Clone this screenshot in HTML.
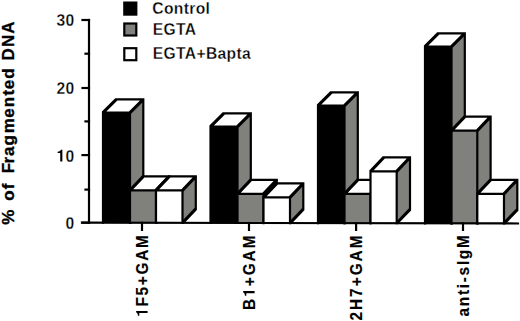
<!DOCTYPE html>
<html><head><meta charset="utf-8"><style>
html,body{margin:0;padding:0;background:#fff;}
svg{display:block;}
text{font-family:"Liberation Sans",sans-serif;font-weight:bold;fill:#000;stroke:#fff;stroke-width:0.3px;}
.lg{font-size:16.3px;letter-spacing:0.35px;stroke:#fff;stroke-width:0.3px;}
.yl{font-size:16.3px;letter-spacing:0.3px;stroke:#fff;stroke-width:0.3px;}
.xl{font-size:16.0px;stroke:#000;stroke-width:0.15px;}
.h1{fill:none;stroke:none;}
.p1{fill:#000;stroke:none;}
.ya{font-size:17px;letter-spacing:1.3px;stroke:#000;stroke-width:0.35px;}
</style></head><body>
<svg width="520" height="321" viewBox="0 0 520 321">
<g fill="#000">
<rect x="103" y="112.6" width="27" height="110.16" fill="#000"/>
<polygon points="103,112.6 130,112.6 143.3,99.3 116.3,99.3" fill="#fff"/>
<polygon points="130,112.6 143.3,99.3 143.3,209.46 130,222.76" fill="#80817d"/>
<path d="M101.9,111.5 L104.1,111.5 L104.1,223.86 L101.9,223.86Z M128.9,111.5 L131.1,111.5 L131.1,223.86 L128.9,223.86Z M101.9,111.5 L131.1,111.5 L131.1,113.7 L101.9,113.7Z M101.9,111.5 L115.2,98.2 L117.4,98.2 L117.4,100.4 L104.1,113.7 L101.9,113.7Z M115.2,98.2 L144.4,98.2 L144.4,100.4 L115.2,100.4Z M128.9,111.5 L142.2,98.2 L144.4,98.2 L144.4,100.4 L131.1,113.7 L128.9,113.7Z M142.2,98.2 L144.4,98.2 L144.4,210.56 L142.2,210.56Z M128.9,221.66 L142.2,208.36 L144.4,208.36 L144.4,210.56 L131.1,223.86 L128.9,223.86Z"/>
<rect x="130" y="190.3" width="26" height="32.51" fill="#80817d"/>
<polygon points="130,190.3 156,190.3 169.3,176.4 143.3,176.4" fill="#fff"/>
<polygon points="156,190.3 169.3,176.4 169.3,208.91 156,222.81" fill="#80817d"/>
<path d="M128.9,189.2 L131.1,189.2 L131.1,223.91 L128.9,223.91Z M154.9,189.2 L157.1,189.2 L157.1,223.91 L154.9,223.91Z M128.9,189.2 L157.1,189.2 L157.1,191.4 L128.9,191.4Z M128.9,189.2 L142.2,175.3 L144.4,175.3 L144.4,177.5 L131.1,191.4 L128.9,191.4Z M142.2,175.3 L170.4,175.3 L170.4,177.5 L142.2,177.5Z M154.9,189.2 L168.2,175.3 L170.4,175.3 L170.4,177.5 L157.1,191.4 L154.9,191.4Z M168.2,175.3 L170.4,175.3 L170.4,210.01 L168.2,210.01Z M154.9,221.71 L168.2,207.81 L170.4,207.81 L170.4,210.01 L157.1,223.91 L154.9,223.91Z"/>
<rect x="156" y="190.3" width="26.5" height="32.56" fill="#fff"/>
<polygon points="156,190.3 182.5,190.3 195.8,176.4 169.3,176.4" fill="#fff"/>
<polygon points="182.5,190.3 195.8,176.4 195.8,208.96 182.5,222.86" fill="#80817d"/>
<path d="M154.9,189.2 L157.1,189.2 L157.1,223.96 L154.9,223.96Z M181.4,189.2 L183.6,189.2 L183.6,223.96 L181.4,223.96Z M154.9,189.2 L183.6,189.2 L183.6,191.4 L154.9,191.4Z M154.9,189.2 L168.2,175.3 L170.4,175.3 L170.4,177.5 L157.1,191.4 L154.9,191.4Z M168.2,175.3 L196.9,175.3 L196.9,177.5 L168.2,177.5Z M181.4,189.2 L194.7,175.3 L196.9,175.3 L196.9,177.5 L183.6,191.4 L181.4,191.4Z M194.7,175.3 L196.9,175.3 L196.9,210.06 L194.7,210.06Z M181.4,221.76 L194.7,207.86 L196.9,207.86 L196.9,210.06 L183.6,223.96 L181.4,223.96Z"/>
<rect x="210.5" y="126.6" width="27" height="96.36" fill="#000"/>
<polygon points="210.5,126.6 237.5,126.6 250.8,113.3 223.8,113.3" fill="#fff"/>
<polygon points="237.5,126.6 250.8,113.3 250.8,209.66 237.5,222.96" fill="#80817d"/>
<path d="M209.4,125.5 L211.6,125.5 L211.6,224.06 L209.4,224.06Z M236.4,125.5 L238.6,125.5 L238.6,224.06 L236.4,224.06Z M209.4,125.5 L238.6,125.5 L238.6,127.7 L209.4,127.7Z M209.4,125.5 L222.7,112.2 L224.9,112.2 L224.9,114.4 L211.6,127.7 L209.4,127.7Z M222.7,112.2 L251.9,112.2 L251.9,114.4 L222.7,114.4Z M236.4,125.5 L249.7,112.2 L251.9,112.2 L251.9,114.4 L238.6,127.7 L236.4,127.7Z M249.7,112.2 L251.9,112.2 L251.9,210.76 L249.7,210.76Z M236.4,221.86 L249.7,208.56 L251.9,208.56 L251.9,210.76 L238.6,224.06 L236.4,224.06Z"/>
<rect x="237.5" y="193.8" width="26" height="29.2" fill="#80817d"/>
<polygon points="237.5,193.8 263.5,193.8 276.8,179.9 250.8,179.9" fill="#fff"/>
<polygon points="263.5,193.8 276.8,179.9 276.8,209.1 263.5,223" fill="#80817d"/>
<path d="M236.4,192.7 L238.6,192.7 L238.6,224.1 L236.4,224.1Z M262.4,192.7 L264.6,192.7 L264.6,224.1 L262.4,224.1Z M236.4,192.7 L264.6,192.7 L264.6,194.9 L236.4,194.9Z M236.4,192.7 L249.7,178.8 L251.9,178.8 L251.9,181 L238.6,194.9 L236.4,194.9Z M249.7,178.8 L277.9,178.8 L277.9,181 L249.7,181Z M262.4,192.7 L275.7,178.8 L277.9,178.8 L277.9,181 L264.6,194.9 L262.4,194.9Z M275.7,178.8 L277.9,178.8 L277.9,210.2 L275.7,210.2Z M262.4,221.9 L275.7,208 L277.9,208 L277.9,210.2 L264.6,224.1 L262.4,224.1Z"/>
<rect x="263.5" y="197.3" width="26.5" height="25.75" fill="#fff"/>
<polygon points="263.5,197.3 290,197.3 303.3,183.4 276.8,183.4" fill="#fff"/>
<polygon points="290,197.3 303.3,183.4 303.3,209.15 290,223.05" fill="#80817d"/>
<path d="M262.4,196.2 L264.6,196.2 L264.6,224.15 L262.4,224.15Z M288.9,196.2 L291.1,196.2 L291.1,224.15 L288.9,224.15Z M262.4,196.2 L291.1,196.2 L291.1,198.4 L262.4,198.4Z M262.4,196.2 L275.7,182.3 L277.9,182.3 L277.9,184.5 L264.6,198.4 L262.4,198.4Z M275.7,182.3 L304.4,182.3 L304.4,184.5 L275.7,184.5Z M288.9,196.2 L302.2,182.3 L304.4,182.3 L304.4,184.5 L291.1,198.4 L288.9,198.4Z M302.2,182.3 L304.4,182.3 L304.4,210.25 L302.2,210.25Z M288.9,221.95 L302.2,208.05 L304.4,208.05 L304.4,210.25 L291.1,224.15 L288.9,224.15Z"/>
<rect x="318" y="105.6" width="26.5" height="117.55" fill="#000"/>
<polygon points="318,105.6 344.5,105.6 357.8,92.3 331.3,92.3" fill="#fff"/>
<polygon points="344.5,105.6 357.8,92.3 357.8,209.85 344.5,223.15" fill="#80817d"/>
<path d="M316.9,104.5 L319.1,104.5 L319.1,224.25 L316.9,224.25Z M343.4,104.5 L345.6,104.5 L345.6,224.25 L343.4,224.25Z M316.9,104.5 L345.6,104.5 L345.6,106.7 L316.9,106.7Z M316.9,104.5 L330.2,91.2 L332.4,91.2 L332.4,93.4 L319.1,106.7 L316.9,106.7Z M330.2,91.2 L358.9,91.2 L358.9,93.4 L330.2,93.4Z M343.4,104.5 L356.7,91.2 L358.9,91.2 L358.9,93.4 L345.6,106.7 L343.4,106.7Z M356.7,91.2 L358.9,91.2 L358.9,210.95 L356.7,210.95Z M343.4,222.05 L356.7,208.75 L358.9,208.75 L358.9,210.95 L345.6,224.25 L343.4,224.25Z"/>
<rect x="344.5" y="193.8" width="26" height="29.4" fill="#80817d"/>
<polygon points="344.5,193.8 370.5,193.8 383.8,179.9 357.8,179.9" fill="#fff"/>
<polygon points="370.5,193.8 383.8,179.9 383.8,209.3 370.5,223.2" fill="#80817d"/>
<path d="M343.4,192.7 L345.6,192.7 L345.6,224.3 L343.4,224.3Z M369.4,192.7 L371.6,192.7 L371.6,224.3 L369.4,224.3Z M343.4,192.7 L371.6,192.7 L371.6,194.9 L343.4,194.9Z M343.4,192.7 L356.7,178.8 L358.9,178.8 L358.9,181 L345.6,194.9 L343.4,194.9Z M356.7,178.8 L384.9,178.8 L384.9,181 L356.7,181Z M369.4,192.7 L382.7,178.8 L384.9,178.8 L384.9,181 L371.6,194.9 L369.4,194.9Z M382.7,178.8 L384.9,178.8 L384.9,210.4 L382.7,210.4Z M369.4,222.1 L382.7,208.2 L384.9,208.2 L384.9,210.4 L371.6,224.3 L369.4,224.3Z"/>
<rect x="370.5" y="171.3" width="26.2" height="51.94" fill="#fff"/>
<polygon points="370.5,171.3 396.7,171.3 410,157.4 383.8,157.4" fill="#fff"/>
<polygon points="396.7,171.3 410,157.4 410,209.34 396.7,223.24" fill="#80817d"/>
<path d="M369.4,170.2 L371.6,170.2 L371.6,224.34 L369.4,224.34Z M395.6,170.2 L397.8,170.2 L397.8,224.34 L395.6,224.34Z M369.4,170.2 L397.8,170.2 L397.8,172.4 L369.4,172.4Z M369.4,170.2 L382.7,156.3 L384.9,156.3 L384.9,158.5 L371.6,172.4 L369.4,172.4Z M382.7,156.3 L411.1,156.3 L411.1,158.5 L382.7,158.5Z M395.6,170.2 L408.9,156.3 L411.1,156.3 L411.1,158.5 L397.8,172.4 L395.6,172.4Z M408.9,156.3 L411.1,156.3 L411.1,210.44 L408.9,210.44Z M395.6,222.14 L408.9,208.24 L411.1,208.24 L411.1,210.44 L397.8,224.34 L395.6,224.34Z"/>
<rect x="425" y="46.6" width="26.5" height="176.74" fill="#000"/>
<polygon points="425,46.6 451.5,46.6 464.8,33.3 438.3,33.3" fill="#fff"/>
<polygon points="451.5,46.6 464.8,33.3 464.8,210.04 451.5,223.34" fill="#80817d"/>
<path d="M423.9,45.5 L426.1,45.5 L426.1,224.44 L423.9,224.44Z M450.4,45.5 L452.6,45.5 L452.6,224.44 L450.4,224.44Z M423.9,45.5 L452.6,45.5 L452.6,47.7 L423.9,47.7Z M423.9,45.5 L437.2,32.2 L439.4,32.2 L439.4,34.4 L426.1,47.7 L423.9,47.7Z M437.2,32.2 L465.9,32.2 L465.9,34.4 L437.2,34.4Z M450.4,45.5 L463.7,32.2 L465.9,32.2 L465.9,34.4 L452.6,47.7 L450.4,47.7Z M463.7,32.2 L465.9,32.2 L465.9,211.14 L463.7,211.14Z M450.4,222.24 L463.7,208.94 L465.9,208.94 L465.9,211.14 L452.6,224.44 L450.4,224.44Z"/>
<rect x="451.5" y="130.6" width="25.8" height="92.79" fill="#80817d"/>
<polygon points="451.5,130.6 477.3,130.6 490.6,116.7 464.8,116.7" fill="#fff"/>
<polygon points="477.3,130.6 490.6,116.7 490.6,209.49 477.3,223.39" fill="#80817d"/>
<path d="M450.4,129.5 L452.6,129.5 L452.6,224.49 L450.4,224.49Z M476.2,129.5 L478.4,129.5 L478.4,224.49 L476.2,224.49Z M450.4,129.5 L478.4,129.5 L478.4,131.7 L450.4,131.7Z M450.4,129.5 L463.7,115.6 L465.9,115.6 L465.9,117.8 L452.6,131.7 L450.4,131.7Z M463.7,115.6 L491.7,115.6 L491.7,117.8 L463.7,117.8Z M476.2,129.5 L489.5,115.6 L491.7,115.6 L491.7,117.8 L478.4,131.7 L476.2,131.7Z M489.5,115.6 L491.7,115.6 L491.7,210.59 L489.5,210.59Z M476.2,222.29 L489.5,208.39 L491.7,208.39 L491.7,210.59 L478.4,224.49 L476.2,224.49Z"/>
<rect x="477.3" y="193.8" width="26.7" height="29.64" fill="#fff"/>
<polygon points="477.3,193.8 504,193.8 517.3,179.9 490.6,179.9" fill="#fff"/>
<polygon points="504,193.8 517.3,179.9 517.3,209.54 504,223.44" fill="#80817d"/>
<path d="M476.2,192.7 L478.4,192.7 L478.4,224.54 L476.2,224.54Z M502.9,192.7 L505.1,192.7 L505.1,224.54 L502.9,224.54Z M476.2,192.7 L505.1,192.7 L505.1,194.9 L476.2,194.9Z M476.2,192.7 L489.5,178.8 L491.7,178.8 L491.7,181 L478.4,194.9 L476.2,194.9Z M489.5,178.8 L518.4,178.8 L518.4,181 L489.5,181Z M502.9,192.7 L516.2,178.8 L518.4,178.8 L518.4,181 L505.1,194.9 L502.9,194.9Z M516.2,178.8 L518.4,178.8 L518.4,210.64 L516.2,210.64Z M502.9,222.34 L516.2,208.44 L518.4,208.44 L518.4,210.64 L505.1,224.54 L502.9,224.54Z"/>
</g>
<g fill="#000">
<path d="M87.9,18.9 L90.1,18.9 L90.1,223.81 L87.9,223.81Z"/>
<path d="M80.9,221.6 L83.1,221.6 L519.1,222.38 L519.1,224.59 L516.9,224.59 L80.9,223.8Z"/>
<path d="M81.4,221.6 L90.1,221.6 L90.1,223.8 L81.4,223.8Z"/>
<path d="M81.4,154 L90.1,154 L90.1,156.2 L81.4,156.2Z"/>
<path d="M81.4,86.9 L90.1,86.9 L90.1,89.1 L81.4,89.1Z"/>
<path d="M81.4,18.9 L90.1,18.9 L90.1,21.1 L81.4,21.1Z"/>
<path d="M84.4,188.5 L90.1,188.5 L90.1,190.7 L84.4,190.7Z"/>
<path d="M84.4,120.3 L90.1,120.3 L90.1,122.5 L84.4,122.5Z"/>
<path d="M84.4,52.6 L90.1,52.6 L90.1,54.8 L84.4,54.8Z"/>
<path d="M140.9,221.71 L143.1,221.71 L143.1,231 L140.9,231Z"/>
<path d="M247.9,221.9 L250.1,221.9 L250.1,231 L247.9,231Z"/>
<path d="M355,222.09 L357.2,222.09 L357.2,231 L355,231Z"/>
<path d="M461.9,222.29 L464.1,222.29 L464.1,231 L461.9,231Z"/>
</g>
<g stroke="#000" stroke-width="2.2">
<rect x="124.3" y="2.6" width="12" height="12" fill="#000"/>
<rect x="124.3" y="23.5" width="12" height="12" fill="#80817d"/>
<rect x="124.3" y="48.2" width="12" height="12" fill="#fff"/>
</g>
<text class="lg" transform="translate(152.3,13.6) scale(0.96,1)">Control</text>
<text class="lg" transform="translate(152.8,34.5) scale(0.96,1)">EGTA</text>
<text class="lg" transform="translate(152.8,58.8) scale(0.96,1)">EGTA+Bapta</text>
<text class="ya" id="ya" transform="translate(14,225.2) rotate(-90) scale(1.0,1)" x="0.35 3.35 24.44 36.01 39.01 51.99 61.63 69.25 79.8 91.84 107.4 118.06 129.65 135.95 146.4 149.4 164.67 178.3 191.36">% of Fragmented DNA</text>
<text class="yl" id="yl0" transform="translate(74.4,229.1) scale(0.96,1)" text-anchor="end">0</text>
<text class="yl" id="yl10" transform="translate(74.4,161.5) scale(0.96,1)" text-anchor="end"><tspan class="h1">1</tspan>0</text>
<text class="yl" id="yl20" transform="translate(74.4,94.4) scale(0.96,1)" text-anchor="end">20</text>
<text class="yl" id="yl30" transform="translate(74.4,26.4) scale(0.96,1)" text-anchor="end">30</text>
<text class="xl" id="xl0" transform="translate(147.6,233.5) rotate(-90) scale(0.96,1)" text-anchor="end" style="letter-spacing:1.8px"><tspan class="h1">1</tspan>F5+GAM</text>
<text class="xl" id="xl1" transform="translate(254.6,233.5) rotate(-90) scale(0.96,1)" text-anchor="end" style="letter-spacing:2.1px">B<tspan class="h1">1</tspan>+GAM</text>
<text class="xl" id="xl2" transform="translate(361.7,233.5) rotate(-90) scale(0.96,1)" text-anchor="end" style="letter-spacing:2.1px">2H7+GAM</text>
<text class="xl" id="xl3" transform="translate(468.6,233.5) rotate(-90) scale(0.96,1)" text-anchor="end" style="letter-spacing:1.8px">anti-sIgM</text>
<path class="p1" transform="translate(74.4,161.5) scale(0.96,1) translate(-18.75,0) scale(0.007959,-0.007959)" d="M781,0L781,1466L580,1466C560,1330 420,1250 160,1240L160,1060L500,1060L500,0Z"/>
<path class="p1" transform="translate(147.6,233.5) rotate(-90) scale(0.96,1) translate(-86.8,0) scale(0.007812,-0.007812)" d="M781,0L781,1466L580,1466C560,1330 420,1250 160,1240L160,1060L500,1060L500,0Z"/>
<path class="p1" transform="translate(254.6,233.5) rotate(-90) scale(0.96,1) translate(-66.04,0) scale(0.007812,-0.007812)" d="M781,0L781,1466L580,1466C560,1330 420,1250 160,1240L160,1060L500,1060L500,0Z"/>
</svg>
</body></html>
